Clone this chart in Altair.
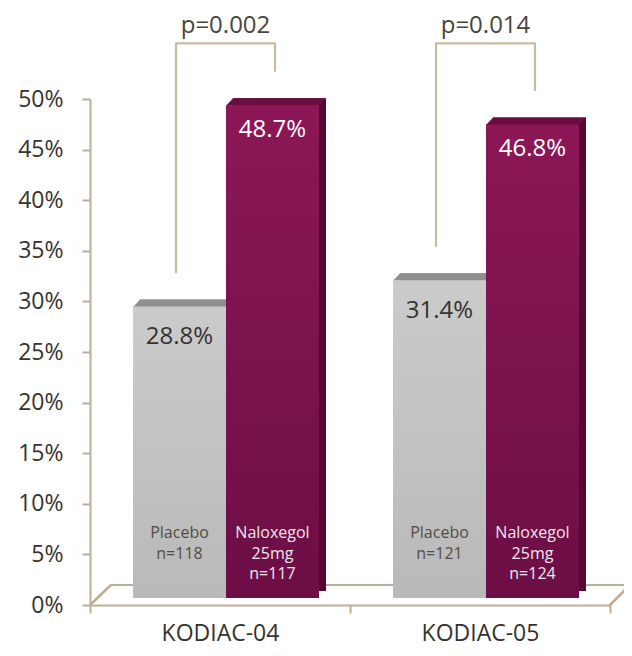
import altair as alt
import pandas as pd

# ---------------- data ----------------
studies = ["KODIAC-04", "KODIAC-05"]
groups = ["Placebo", "Naloxegol 25mg"]
placebo_pct = [28.8, 31.4]
naloxegol_pct = [48.7, 46.8]
placebo_n = [118, 121]
naloxegol_n = [117, 124]
p_values = ["p=0.002", "p=0.014"]
y_ticks = [0, 5, 10, 15, 20, 25, 30, 35, 40, 45, 50]

bracket_gap = 4.0    # gap (in %) between bar top and bracket leg
bracket_top = 55.5   # level (in %) of the bracket bar

rows = []
for i, s in enumerate(studies):
    rows.append(dict(study=s, group=groups[0], value=placebo_pct[i],
                     label=f"{placebo_pct[i]}%", inner=f"Placebo\nn={placebo_n[i]}"))
    rows.append(dict(study=s, group=groups[1], value=naloxegol_pct[i],
                     label=f"{naloxegol_pct[i]}%", inner=f"Naloxegol\n25mg\nn={naloxegol_n[i]}"))
bars = pd.DataFrame(rows)

brk_rows = []
for i, s in enumerate(studies):
    brk_rows += [
        dict(study=s, group=groups[0], y=placebo_pct[i] + bracket_gap, order=0),
        dict(study=s, group=groups[0], y=bracket_top, order=1),
        dict(study=s, group=groups[1], y=bracket_top, order=2),
        dict(study=s, group=groups[1], y=naloxegol_pct[i] + bracket_gap, order=3),
    ]
brackets = pd.DataFrame(brk_rows)
ptext = pd.DataFrame(dict(study=studies, p=p_values, y=[bracket_top] * len(studies)))

# ---------------- styling ----------------
FONT = "Open Sans"
TAN = "#bdae96"
TXT = "#363230"
DEPTH = 7

x_scale = alt.Scale(domain=studies, paddingInner=0, paddingOuter=0)
y_scale = alt.Scale(domain=[0, 50], nice=False, zero=True)

x_axis = alt.Axis(title=None, labelAngle=0, tickBand="extent", tickSize=8, tickColor=TAN,
                  tickWidth=2, domainColor=TAN, domainWidth=2, labelPadding=9,
                  labelFont=FONT, labelFontSize=23, labelColor=TXT)
y_axis = alt.Axis(title=None, values=y_ticks, labelExpr="datum.value + '%'", tickSize=8,
                  tickColor=TAN, tickWidth=2, domainColor=TAN, domainWidth=2, grid=False,
                  labelPadding=19, labelFont=FONT, labelFontSize=23, labelColor=TXT)

X = alt.X("study:N", scale=x_scale, axis=x_axis, sort=studies)


def Y(field):
    return alt.Y(f"{field}:Q", scale=y_scale, axis=y_axis)


def XO_band(rng):
    return alt.XOffset("group:N", sort=groups,
                       scale=alt.Scale(domain=groups, range=rng, paddingInner=0, paddingOuter=0))


def XO_point(rng):
    return alt.XOffset("group:N", sort=groups,
                       scale=alt.Scale(domain=groups, range=rng, padding=0))


front_rng = [43, 229]                       # bar front faces inside each study band
back_rng = [43 + DEPTH, 229 + DEPTH]        # shifted back faces (3D depth)
center_rng = [43 + 46.5, 229 - 46.5]        # centres of the bars (for texts/points)

base = alt.Chart(bars)

# floor (3D base plate)
floor_back = alt.Chart(bars).mark_rule(color=TAN, strokeWidth=2, yOffset=-20).encode(
    x=alt.value(21), x2=alt.value(540), y=alt.datum(0))
floor_left = alt.Chart(bars).mark_rule(color=TAN, strokeWidth=2, y2Offset=-20).encode(
    x=alt.value(0), x2=alt.value(21), y=alt.datum(0), y2=alt.datum(0))
floor_right = alt.Chart(bars).mark_rule(color=TAN, strokeWidth=2, y2Offset=-20).encode(
    x=alt.value(520), x2=alt.value(540), y=alt.datum(0), y2=alt.datum(0))

# back faces (side + top depth)
back = base.mark_bar(yOffset=-2 * DEPTH, y2Offset=-2 * DEPTH).encode(
    x=X, xOffset=XO_band(back_rng), y=Y("value"), y2=alt.datum(0),
    color=alt.Color("group:N", sort=groups, legend=None,
                    scale=alt.Scale(domain=groups, range=["#8e8e8e", "#560832"])))

top_shape = "M -0.775 0.01 L 0.775 0.01 L 0.8917 -0.1167 L -0.6583 -0.1167 Z"
top = base.mark_point(shape=top_shape, size=14400, filled=True, opacity=1,
                      strokeWidth=0, yOffset=-DEPTH).encode(
    x=X, xOffset=XO_point(center_rng), y=Y("value"),
    color=alt.Color("group:N", sort=groups, legend=None,
                    scale=alt.Scale(domain=groups, range=["#8f8f8f", "#6c0d42"])))


def grad(c1, c2):
    return alt.LinearGradient(gradient="linear", x1=0, x2=0, y1=0, y2=1,
                              stops=[alt.GradientStop(color=c1, offset=0),
                                     alt.GradientStop(color=c2, offset=1)])


front_p = base.transform_filter(alt.datum.group == groups[0]).mark_bar(
    yOffset=-DEPTH, y2Offset=-DEPTH, color=grad("#cbcbcb", "#b9b9b9")).encode(
    x=X, xOffset=XO_band(front_rng), y=Y("value"), y2=alt.datum(0))
front_n = base.transform_filter(alt.datum.group == groups[1]).mark_bar(
    yOffset=-DEPTH, y2Offset=-DEPTH, color=grad("#8c1757", "#6c0e45")).encode(
    x=X, xOffset=XO_band(front_rng), y=Y("value"), y2=alt.datum(0))

val_p = base.transform_filter(alt.datum.group == groups[0]).mark_text(
    font=FONT, fontSize=24, color="#363230", baseline="middle", dy=23.5).encode(
    x=X, xOffset=XO_point(center_rng), y=Y("value"), text="label:N")
val_n = base.transform_filter(alt.datum.group == groups[1]).mark_text(
    font=FONT, fontSize=24, color="#ffffff", baseline="middle", dy=18).encode(
    x=X, xOffset=XO_point(center_rng), y=Y("value"), text="label:N")

inner_p = base.transform_filter(alt.datum.group == groups[0]).mark_text(
    font=FONT, fontSize=16, color="#544c44", baseline="top", lineBreak="\n",
    lineHeight=20.5, dy=-80).encode(
    x=X, xOffset=XO_point(center_rng), y=alt.datum(0), text="inner:N")
inner_n = base.transform_filter(alt.datum.group == groups[1]).mark_text(
    font=FONT, fontSize=16, color="#f3e6ed", baseline="top", lineBreak="\n",
    lineHeight=20.5, dy=-80).encode(
    x=X, xOffset=XO_point(center_rng), y=alt.datum(0), text="inner:N")

bracket = alt.Chart(brackets).mark_line(color="#c9bba3", strokeWidth=2.2,
                                         strokeJoin="round").encode(
    x=X, xOffset=XO_point([86, 185]), y=Y("y"), order="order:Q", detail="study:N")

ptxt = alt.Chart(ptext).mark_text(font=FONT, fontSize=24, color="#4a4440",
                                  baseline="alphabetic", dx=5.5, dy=-10).encode(
    x=X, y=Y("y"), text="p:N")

chart = alt.layer(
    floor_back, floor_left, floor_right,
    back, top, front_p, front_n,
    val_p, val_n, inner_p, inner_n,
    bracket, ptxt,
).resolve_scale(xOffset="independent", color="independent").properties(
    width=520, height=506,
    autosize=alt.AutoSizeParams(type="none"),
    padding={"left": 82, "top": 91, "right": 14, "bottom": 43},
).configure_view(stroke=None)

chart.save("out.html", embed_options={"renderer": "svg", "actions": False})
